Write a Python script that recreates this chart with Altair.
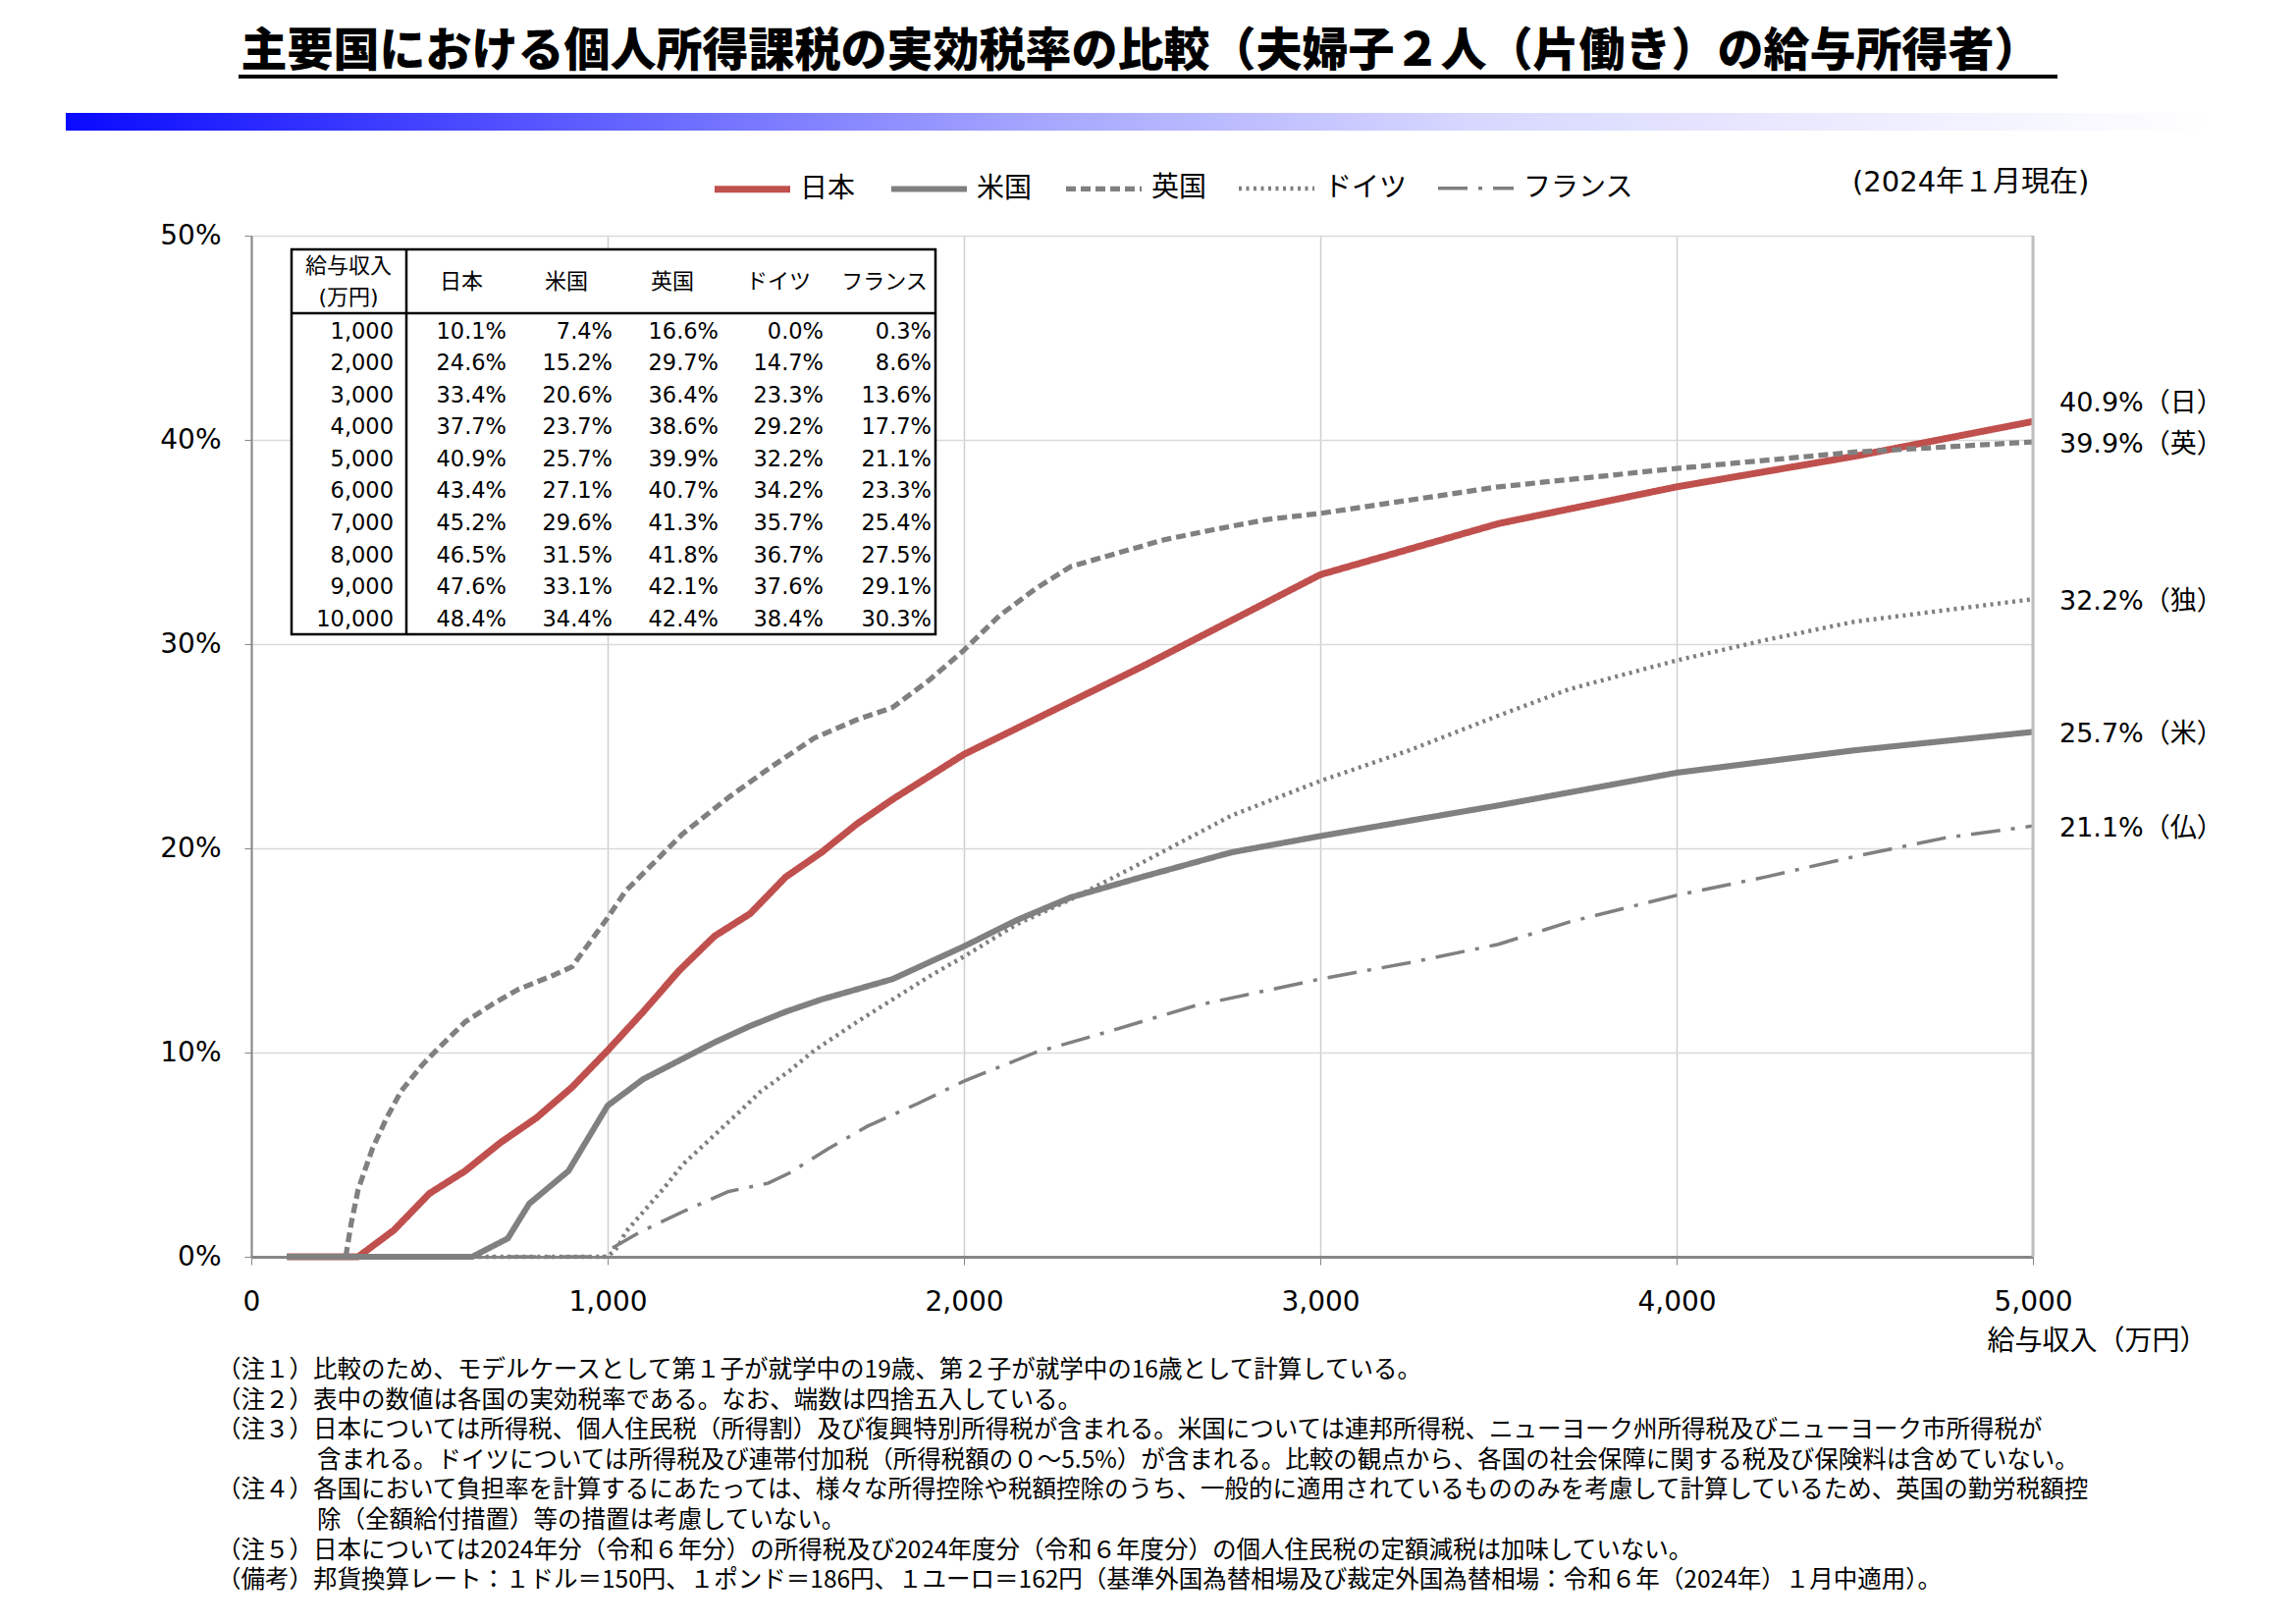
import altair as alt
import pandas as pd

# ---------------- data ----------------
COUNTRIES = ["日本", "米国", "英国", "ドイツ", "フランス"]
ABBR = ["日", "米", "英", "独", "仏"]

jp_x = [100, 300, 400, 500, 600, 700, 800, 900, 1000, 1100, 1200, 1300, 1400, 1500, 1600, 1700, 1800, 1900, 2000, 2500, 3000, 3500, 4000, 4500, 5000]
jp_y = [0, 0, 1.3, 3.1, 4.2, 5.6, 6.8, 8.3, 10.1, 12.0, 14.0, 15.7, 16.8, 18.6, 19.8, 21.2, 22.4, 23.5, 24.6, 28.9, 33.4, 35.9, 37.7, 39.2, 40.9]

us_x = [100, 620, 720, 780, 890, 1000, 1100, 1200, 1300, 1400, 1500, 1600, 1800, 1900, 2000, 2150, 2300, 2500, 2750, 3000, 3500, 4000, 4500, 5000]
us_y = [0, 0, 0.9, 2.6, 4.2, 7.4, 8.7, 9.6, 10.5, 11.3, 12.0, 12.6, 13.6, 14.4, 15.2, 16.5, 17.6, 18.6, 19.8, 20.6, 22.1, 23.7, 24.8, 25.7]

uk_x = [100, 265, 280, 300, 340, 380, 420, 480, 530, 600, 680, 750, 850, 900, 950, 1000, 1050, 1130, 1210, 1340, 1460, 1580, 1700, 1800, 1900, 2000, 2100, 2200, 2300, 2420, 2560, 2700, 2850, 3000, 3500, 4000, 4500, 5000]
uk_y = [0, 0, 1.6, 3.3, 5.3, 6.8, 8.1, 9.4, 10.3, 11.5, 12.4, 13.1, 13.8, 14.2, 15.4, 16.6, 17.9, 19.3, 20.7, 22.5, 24.0, 25.4, 26.3, 26.9, 28.2, 29.7, 31.4, 32.7, 33.8, 34.4, 35.1, 35.6, 36.1, 36.4, 37.7, 38.6, 39.4, 39.9]

de_x = [100, 1000, 1030, 1050, 1100, 1160, 1210, 1290, 1370, 1430, 1510, 1580, 1700, 1800, 1900, 2000, 2150, 2300, 2500, 2750, 3000, 3250, 3500, 3700, 4000, 4250, 4500, 5000]
de_y = [0, 0.0, 0.5, 1.2, 2.2, 3.4, 4.5, 5.8, 7.1, 8.1, 9.1, 10.1, 11.5, 12.6, 13.7, 14.7, 16.3, 17.5, 19.3, 21.6, 23.3, 24.8, 26.5, 27.8, 29.2, 30.2, 31.1, 32.2]

fr_x = [100, 990, 1000, 1090, 1210, 1340, 1450, 1510, 1620, 1730, 1870, 2000, 2200, 2400, 2650, 3000, 3250, 3500, 3700, 4000, 4250, 4500, 4750, 5000]
fr_y = [0, 0, 0.3, 1.2, 2.2, 3.2, 3.6, 4.1, 5.3, 6.4, 7.5, 8.6, 10.0, 11.0, 12.3, 13.6, 14.4, 15.3, 16.4, 17.7, 18.6, 19.6, 20.5, 21.1]

# table
tbl_income = ["1,000", "2,000", "3,000", "4,000", "5,000", "6,000", "7,000", "8,000", "9,000", "10,000"]
tbl_jp = [10.1, 24.6, 33.4, 37.7, 40.9, 43.4, 45.2, 46.5, 47.6, 48.4]
tbl_us = [7.4, 15.2, 20.6, 23.7, 25.7, 27.1, 29.6, 31.5, 33.1, 34.4]
tbl_uk = [16.6, 29.7, 36.4, 38.6, 39.9, 40.7, 41.3, 41.8, 42.1, 42.4]
tbl_de = [0.0, 14.7, 23.3, 29.2, 32.2, 34.2, 35.7, 36.7, 37.6, 38.4]
tbl_fr = [0.3, 8.6, 13.6, 17.7, 21.1, 23.3, 25.4, 27.5, 29.1, 30.3]

TITLE = "主要国における個人所得課税の実効税率の比較（夫婦子２人（片働き）の給与所得者）"
ASOF = "(2024年１月現在)"
XTITLE = "給与収入（万円）"
NOTES = [
    ("（注１）比較のため、モデルケースとして第１子が就学中の19歳、第２子が就学中の16歳として計算している。", False),
    ("（注２）表中の数値は各国の実効税率である。なお、端数は四捨五入している。", False),
    ("（注３）日本については所得税、個人住民税（所得割）及び復興特別所得税が含まれる。米国については連邦所得税、ニューヨーク州所得税及びニューヨーク市所得税が", False),
    ("含まれる。ドイツについては所得税及び連帯付加税（所得税額の０～5.5%）が含まれる。比較の観点から、各国の社会保障に関する税及び保険料は含めていない。", True),
    ("（注４）各国において負担率を計算するにあたっては、様々な所得控除や税額控除のうち、一般的に適用されているもののみを考慮して計算しているため、英国の勤労税額控", False),
    ("除（全額給付措置）等の措置は考慮していない。", True),
    ("（注５）日本については2024年分（令和６年分）の所得税及び2024年度分（令和６年度分）の個人住民税の定額減税は加味していない。", False),
    ("（備考）邦貨換算レート：１ドル＝150円、１ポンド＝186円、１ユーロ＝162円（基準外国為替相場及び裁定外国為替相場：令和６年（2024年）１月中適用）。", False),
]

# ---------------- styles ----------------
CJK = "Noto Sans CJK JP"
NUM = "DejaVu Sans, Noto Sans CJK JP"
COLORS = ["#C0504D", "#808080", "#808080", "#808080", "#808080"]
DASHES = [[1, 0], [1, 0], [10, 5], [3, 4.5], [30, 11, 4, 11]]
WIDTHS = [7, 3.5, 4, 3.5, 4.5]

W, H = 1815, 1040

series = [(jp_x, jp_y), (us_x, us_y), (uk_x, uk_y), (de_x, de_y), (fr_x, fr_y)]
rows = []
for name, (xs, ys) in zip(COUNTRIES, series):
    for xv, yv in zip(xs, ys):
        rows.append({"country": name, "income": xv, "rate": yv})
df = pd.DataFrame(rows)

one = pd.DataFrame({"a": [0]})

leg = alt.Legend(
    title=None, orient="none", legendX=468, legendY=-90, direction="horizontal",
    columns=5, columnPadding=23, symbolType="stroke", symbolSize=5930,
    labelFont=CJK, labelFontSize=28, labelColor="black", labelOffset=6,
)

x_axis = alt.Axis(
    values=[0, 1000, 2000, 3000, 4000, 5000], format=",.0f", labelFont=NUM, labelFontSize=28,
    labelColor="black", labelPadding=24, labelFlush=False, tickSize=8, tickColor="#868686",
    domainColor="#868686", domainWidth=3, gridColor="#cfcfcf", gridWidth=1.5,
    title=XTITLE, titleFont=CJK, titleFontSize=28, titleFontWeight="normal", titleColor="black",
    titleX=1992, titleY=86, titleAlign="right", titleBaseline="middle",
)
y_axis = alt.Axis(
    values=[0, 10, 20, 30, 40, 50], labelExpr="datum.value + '%'", labelFont=NUM,
    labelFontSize=28, labelColor="black", labelPadding=24, tickSize=7, tickColor="#868686",
    domainColor="#868686", domainWidth=2, gridColor="#d9d9d9", gridWidth=1.5, title=None,
)

base = alt.Chart(df).encode(
    x=alt.X("income:Q", scale=alt.Scale(domain=[0, 5000], nice=False), axis=x_axis),
    y=alt.Y("rate:Q", scale=alt.Scale(domain=[0, 50], nice=False), axis=y_axis),
)

lines = base.mark_line(strokeCap="butt", strokeJoin="round").encode(
    color=alt.Color("country:N", sort=COUNTRIES, scale=alt.Scale(domain=COUNTRIES, range=COLORS), legend=leg),
    strokeDash=alt.StrokeDash("country:N", sort=COUNTRIES, scale=alt.Scale(domain=COUNTRIES, range=DASHES), legend=leg),
    strokeWidth=alt.StrokeWidth("country:N", sort=COUNTRIES, scale=alt.Scale(domain=COUNTRIES, range=WIDTHS), legend=leg),
)

right_border = alt.Chart(one).mark_rule(color="#bfbfbf", strokeWidth=3).encode(x=alt.X(datum=5000))

# end labels
lab_rows = []
for name, ab, (xs, ys) in zip(COUNTRIES, ABBR, series):
    lab_rows.append({"country": name, "income": xs[-1], "rate": ys[-1], "label": f"{ys[-1]:.1f}%（{ab}）"})
lab_df = pd.DataFrame(lab_rows)
lab_jp = alt.Chart(lab_df[lab_df.country == "日本"]).mark_text(
    align="left", baseline="middle", dx=27, dy=-18, font=NUM, fontSize=27, color="black"
).encode(x="income:Q", y="rate:Q", text="label:N")
lab_other = alt.Chart(lab_df[lab_df.country != "日本"]).mark_text(
    align="left", baseline="middle", dx=27, dy=3, font=NUM, fontSize=27, color="black"
).encode(x="income:Q", y="rate:Q", text="label:N")

# ---------------- table ----------------
def txt(text, x, y, align="center", baseline="middle", font=NUM, size=22, weight="normal", **kw):
    return alt.Chart(one).mark_text(
        align=align, baseline=baseline, font=font, fontSize=size, fontWeight=weight, color="black", **kw
    ).encode(x=alt.value(x), y=alt.value(y), text=alt.value(text))

def rule(x1, x2, y1, y2, color="black", width=2.5):
    return alt.Chart(one).mark_rule(color=color, strokeWidth=width).encode(
        x=alt.value(x1), x2=alt.value(x2), y=alt.value(y1), y2=alt.value(y2))

box = alt.Chart(one).mark_rect(fill="white", stroke="black", strokeWidth=2.5).encode(
    x=alt.value(41), x2=alt.value(697), y=alt.value(14), y2=alt.value(406))

table_layers = [box, rule(41, 697, 79, 79), rule(158, 158, 14, 406)]
table_layers.append(txt("給与収入", 99, 31, font=CJK, size=22))
table_layers.append(txt("(万円)", 99, 63, font=NUM, size=22))
hdr_x = [214, 321, 429, 537, 645]
for name, hx in zip(COUNTRIES, hdr_x):
    table_layers.append(txt(name, hx, 47, font=CJK, size=22))

ROW0, ROWH = 97.7, 32.55
col_right = [145, 260, 368, 476, 583, 693]
cols = [tbl_income] + [[f"{v:.1f}%" for v in c] for c in (tbl_jp, tbl_us, tbl_uk, tbl_de, tbl_fr)]
for cx, vals in zip(col_right, cols):
    table_layers.append(
        alt.Chart(one).mark_text(
            align="right", baseline="middle", font=NUM, fontSize=22.5, color="black",
            lineBreak="\n", lineHeight=ROWH,
        ).encode(x=alt.value(cx), y=alt.value(ROW0), text=alt.value("\n".join(vals)))
    )

# ---------------- title / header decorations ----------------
title = txt(TITLE, 906, -187, font=CJK, size=47, weight=900)
underline = rule(-13, 1840, -162, -162, color="black", width=4)
grad = alt.Chart(one).mark_rect(
    fill=alt.LinearGradient(
        gradient="linear", x1=0, x2=1, y1=0, y2=0,
        stops=[alt.GradientStop(color="#0A0AFF", offset=0),
               alt.GradientStop(color="#A5A5FF", offset=0.45),
               alt.GradientStop(color="#D8D8FF", offset=0.66),
               alt.GradientStop(color="#FFFFFF", offset=1)]),
).encode(x=alt.value(-189), x2=alt.value(1995), y=alt.value(-125), y2=alt.value(-107))
asof = txt(ASOF, 1631, -54, align="left", font=NUM, size=29)

notes = []
for i, (t, indent) in enumerate(NOTES):
    notes.append(txt(t, 67 if indent else -35, 1156 + i * 30.6, align="left", font=CJK, size=24.5))

chart = alt.layer(
    *table_layers, lines, right_border, lab_jp, lab_other, title, underline, grad, asof, *notes
).properties(
    width=W, height=H,
    autosize=alt.AutoSizeParams(type="none"),
    padding={"left": 248, "top": 232, "right": 260, "bottom": 366},
).configure_view(stroke="transparent").configure(background="white")

chart.save("out.html", embed_options={"renderer": "svg", "actions": False})
